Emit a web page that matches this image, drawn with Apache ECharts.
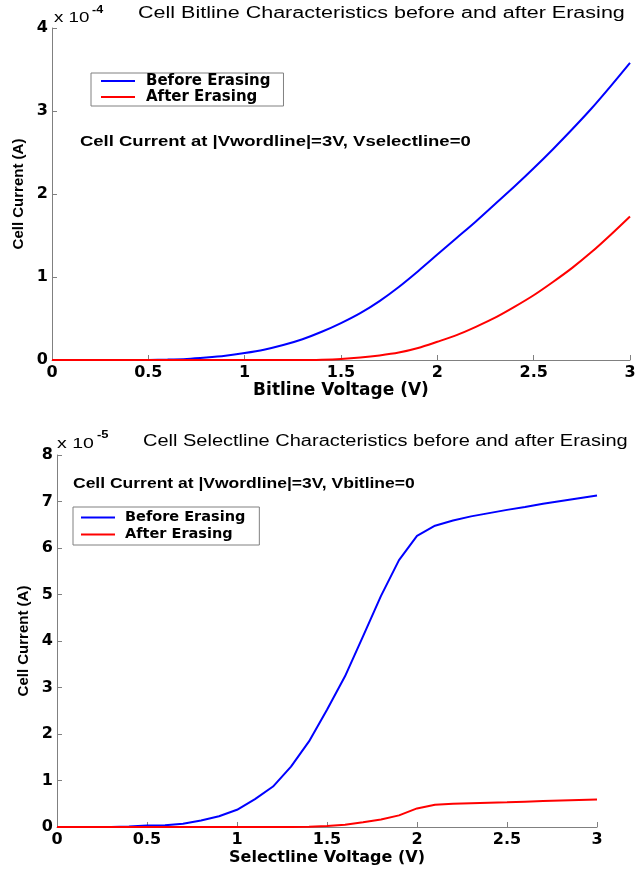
<!DOCTYPE html>
<html>
<head>
<meta charset="utf-8">
<script src="https://cdn.jsdelivr.net/npm/echarts@6/dist/echarts.min.js"></script>
<style>
html,body{margin:0;padding:0;background:#fff;}
#c{width:639px;height:870px;}
</style>
</head>
<body>
<div id="c"></div>
<script>
// Voltage samples (V)
var voltage = [0,0.1,0.2,0.3,0.4,0.5,0.6,0.7,0.8,0.9,1.0,1.1,1.2,1.3,1.4,1.5,1.6,1.7,1.8,1.9,2.0,2.1,2.2,2.3,2.4,2.5,2.6,2.7,2.8,2.9,3.0];

// Bitline characteristics, cell current in units of 1e-4 A
var bitBefore = [0,0,0,0,0,0.001,0.005,0.013,0.03,0.052,0.084,0.124,0.18,0.25,0.34,0.445,0.565,0.71,0.88,1.07,1.27,1.47,1.67,1.88,2.09,2.31,2.54,2.78,3.03,3.30,3.58];
var bitAfter  = [0,0,0,0,0,0,0,0,0,0,0,0,0,0,0.004,0.013,0.03,0.055,0.09,0.145,0.22,0.30,0.40,0.51,0.64,0.78,0.94,1.11,1.30,1.51,1.73];

// Selectline characteristics, cell current in units of 1e-5 A
var selBefore = [0,0,0,0,0.01,0.03,0.04,0.07,0.14,0.23,0.37,0.60,0.87,1.30,1.84,2.52,3.24,4.10,4.97,5.74,6.26,6.48,6.59,6.68,6.75,6.82,6.88,6.95,7.01,7.07,7.13];
var selAfter  = [0,0,0,0,0,0,0,0,0,0,0,0,0,0,0.005,0.02,0.05,0.10,0.16,0.25,0.40,0.48,0.50,0.51,0.52,0.53,0.545,0.56,0.57,0.58,0.59];

var xTicks = [0, 3, 0.5];      // min, max, interval
var yTicksTop = [0, 4, 1];
var yTicksBot = [0, 8, 1];

var seriesNames = ['Before Erasing', 'After Erasing'];
var titles = ['Cell Bitline Characteristics before and after Erasing', 'Cell Selectline Characteristics before and after Erasing'];
var notes = ['Cell Current at |Vwordline|=3V, Vselectline=0', 'Cell Current at |Vwordline|=3V, Vbitline=0'];
var xNames = ['Bitline Voltage (V)', 'Selectline Voltage (V)'];
var yName = 'Cell Current (A)';
var exps = ['-4', '-5'];

function pairs(xs, ys){ return xs.map(function(x,i){ return [x, ys[i]]; }); }

var FONT = 'Liberation Sans, Arial, sans-serif';
var WIDE = 'DejaVu Sans, sans-serif';
var AX = '#808080';

function xAxisCfg(idx, name, gap, nameSize){
  return {
    type:'value', gridIndex:idx, min:xTicks[0], max:xTicks[1], interval:xTicks[2],
    name:name, nameLocation:'middle', nameGap:gap,
    nameTextStyle:{color:'#000', fontSize:nameSize, fontWeight:'bold', fontFamily:WIDE},
    axisLine:{show:true, lineStyle:{color:AX, width:1}},
    axisTick:{show:true, inside:true, length:5, lineStyle:{color:AX}},
    axisLabel:{color:'#000', fontSize:16, fontWeight:'bold', fontFamily:WIDE, margin:5},
    splitLine:{show:false}
  };
}
function yAxisCfg(idx, t, gap){
  return {
    type:'value', gridIndex:idx, min:t[0], max:t[1], interval:t[2],
    name:yName, nameLocation:'middle', nameGap:gap, nameRotate:90,
    nameTextStyle:{color:'#000', fontSize:15, fontWeight:'bold', fontFamily:FONT},
    axisLine:{show:true, lineStyle:{color:AX, width:1}},
    axisTick:{show:true, inside:true, length:5, lineStyle:{color:AX}},
    axisLabel:{color:'#000', fontSize:16, fontWeight:'bold', fontFamily:WIDE, margin:4},
    splitLine:{show:false}
  };
}
function lineSeries(name, color, xi, data, smooth){
  return {type:'line', name:name, xAxisIndex:xi, yAxisIndex:xi, data:data,
    showSymbol:false, symbol:'none', smooth:smooth, animation:false,
    lineStyle:{color:color, width:2}, itemStyle:{color:color}, z: name===seriesNames[1]?3:2};
}
function legendCfg(left, top, pad, gapText, lh, size){
  return {
    data:seriesNames, orient:'vertical', left:left, top:top, padding:pad,
    itemGap:0, itemWidth:34, itemHeight:2, icon:'rect',
    borderColor:AX, borderWidth:1, backgroundColor:'#fff',
    textStyle:{color:'#000', fontSize:size, fontWeight:'bold', fontFamily:WIDE, lineHeight:lh, padding:[0,0,0,gapText]},
    selectedMode:false
  };
}
function txt(x, y, s, size, weight, sx){
  return {type:'text', x:x, y:y, scaleX:sx||1, style:{text:s, fill:'#000', fontSize:size, fontWeight:weight||'normal', fontFamily:FONT}};
}

var chart = echarts.init(document.getElementById('c'), null, {renderer:'canvas'});
chart.setOption({
  backgroundColor:'#fff',
  animation:false,
  grid:[
    {left:52, top:28, width:578, height:332},
    {left:57, top:455, width:540, height:372}
  ],
  xAxis:[xAxisCfg(0, xNames[0], 21, 17), xAxisCfg(1, xNames[1], 23, 16)],
  yAxis:[yAxisCfg(0, yTicksTop, 24), yAxisCfg(1, yTicksBot, 22)],
  legend:[legendCfg(91, 73, [0,13,1,10], 6, 16, 15), legendCfg(73, 507, [2,14,2,8], 5, 17, 14.5)],
  series:[
    lineSeries(seriesNames[0], '#0000ff', 0, pairs(voltage, bitBefore), 0.3),
    lineSeries(seriesNames[1], '#ff0000', 0, pairs(voltage, bitAfter), 0.3),
    lineSeries(seriesNames[0], '#0000ff', 1, pairs(voltage, selBefore), false),
    lineSeries(seriesNames[1], '#ff0000', 1, pairs(voltage, selAfter), false)
  ],
  graphic:[
    txt(138, 6, titles[0], 16, 'normal', 1.345),
    txt(143, 434, titles[1], 16, 'normal', 1.25),
    txt(54, 10, 'x 10', 15, 'normal', 1.25),
    txt(92, 5, exps[0], 10, 'bold', 1.25),
    txt(57, 436, 'x 10', 15, 'normal', 1.3),
    txt(97, 430, exps[1], 10, 'bold', 1.3),
    txt(80, 135, notes[0], 14, 'bold', 1.32),
    txt(73, 477, notes[1], 14, 'bold', 1.25)
  ]
});
</script>
</body>
</html>
